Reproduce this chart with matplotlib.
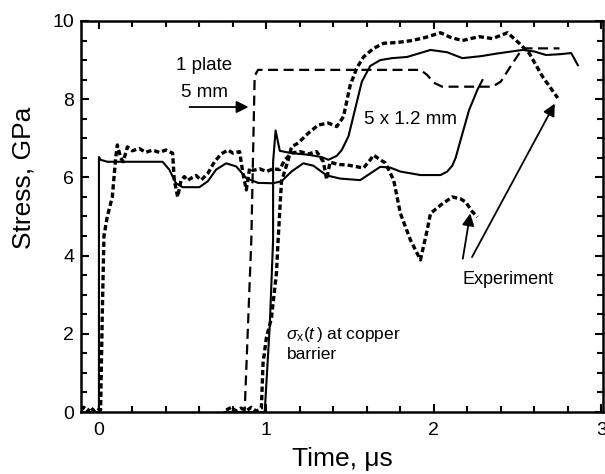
import matplotlib
matplotlib.use("Agg")
import matplotlib.pyplot as plt
from matplotlib.ticker import MultipleLocator

plt.rcParams["font.family"] = ["Liberation Sans", "DejaVu Sans"]
plt.rcParams["mathtext.fontset"] = "custom"
plt.rcParams["mathtext.rm"] = "Liberation Sans"
plt.rcParams["mathtext.it"] = "Liberation Sans:italic"

# simulation, 5 x 1.2 mm stack (front)
sim_a_t = [-0.11, 0.0, 0.0, 0.01, 0.05, 0.38, 0.42, 0.46, 0.50, 0.60, 0.65,
           0.70, 0.76, 0.82, 0.88, 0.95, 1.04, 1.09, 1.15, 1.22, 1.28, 1.36,
           1.44, 1.56, 1.62, 1.68, 1.74, 1.80, 1.92, 2.04, 2.08, 2.11, 2.13,
           2.16, 2.21, 2.26, 2.29]
sim_a_s = [0.0, 0.0, 6.52, 6.45, 6.40, 6.40, 6.20, 5.85, 5.75, 5.75, 5.90,
           6.20, 6.36, 6.28, 5.98, 5.86, 5.85, 5.90, 6.15, 6.36, 6.30, 6.05,
           5.97, 5.93, 6.10, 6.27, 6.25, 6.15, 6.06, 6.06, 6.15, 6.30, 6.50,
           6.96, 7.72, 8.24, 8.49]

# simulation, sigma_x(t) at copper barrier
sim_b_t = [0.75, 0.99, 1.02, 1.04, 1.04, 1.055, 1.08, 1.15, 1.25, 1.33, 1.37,
           1.42, 1.45, 1.49, 1.53, 1.57, 1.62, 1.68, 1.75, 1.84, 1.98, 2.08,
           2.17, 2.28, 2.38, 2.53, 2.60, 2.67, 2.75, 2.82, 2.86]
sim_b_s = [0.0, 0.0, 2.2, 4.4, 6.4, 7.2, 6.68, 6.62, 6.58, 6.52, 6.45, 6.55,
           6.70, 7.05, 7.75, 8.45, 8.85, 9.0, 9.05, 9.08, 9.26, 9.20, 9.05,
           9.10, 9.17, 9.26, 9.22, 9.13, 9.15, 9.18, 8.87]

# simulation, 1 plate 5 mm
plate_t = [0.75, 0.87, 0.91, 0.93, 0.95, 1.92, 1.96, 2.00, 2.05, 2.35, 2.40,
           2.47, 2.53, 2.75]
plate_s = [0.0, 0.0, 4.4, 8.6, 8.75, 8.75, 8.62, 8.42, 8.32, 8.32, 8.45,
           8.92, 9.30, 9.30]

# experiment, front gauge
exp1_t = [-0.107, -0.09, -0.07, -0.05, -0.03, -0.01, 0.01, 0.02, 0.03, 0.05,
          0.08, 0.10, 0.11, 0.13, 0.145, 0.17, 0.20, 0.24, 0.28, 0.32, 0.36,
          0.40, 0.44, 0.45, 0.47, 0.49, 0.51, 0.53, 0.55, 0.58, 0.61, 0.65,
          0.69, 0.73, 0.77, 0.80, 0.84, 0.86, 0.88, 0.90, 0.92, 0.96, 1.00,
          1.04, 1.08, 1.11, 1.15, 1.20, 1.25, 1.30, 1.34, 1.36, 1.38, 1.43,
          1.48, 1.53, 1.58, 1.62, 1.64, 1.68, 1.71, 1.76, 1.80, 1.86, 1.92,
          1.96, 1.98, 2.04, 2.11, 2.16, 2.19, 2.23, 2.26]
exp1_s = [0.05, 0.12, 0.0, 0.12, 0.03, 0.10, 0.05, 2.5, 4.5, 5.0, 5.5, 6.5,
          6.83, 6.5, 6.4, 6.78, 6.68, 6.74, 6.64, 6.70, 6.64, 6.70, 6.62, 5.93,
          5.50, 5.92, 6.02, 5.92, 5.98, 6.05, 5.93, 6.10, 6.40, 6.60, 6.70,
          6.62, 6.66, 6.10, 5.68, 6.24, 6.18, 6.22, 6.15, 6.22, 6.20, 6.45,
          6.62, 6.66, 6.60, 6.66, 6.40, 5.95, 6.39, 6.33, 6.32, 6.28, 6.24,
          6.45, 6.57, 6.45, 6.37, 5.93, 5.08, 4.40, 3.89, 4.65, 5.08, 5.29,
          5.50, 5.45, 5.37, 5.12, 4.99]

# experiment, behind the barrier
exp2_t = [0.76, 0.79, 0.82, 0.85, 0.88, 0.91, 0.94, 0.97, 0.98, 1.00, 1.03,
          1.06, 1.07, 1.09, 1.13, 1.15, 1.19, 1.25, 1.31, 1.37, 1.42, 1.46,
          1.50, 1.54, 1.58, 1.64, 1.70, 1.78, 1.87, 1.95, 2.04, 2.10, 2.17,
          2.27, 2.35, 2.44, 2.51, 2.57, 2.65, 2.74]
exp2_s = [0.05, 0.12, 0.02, 0.10, 0.03, 0.12, 0.02, 0.10, 1.25, 1.90, 2.40,
          3.55, 4.40, 5.9, 6.44, 6.78, 6.88, 7.13, 7.34, 7.39, 7.30, 7.55,
          8.35, 8.80, 9.08, 9.30, 9.43, 9.45, 9.50, 9.58, 9.70, 9.58, 9.50,
          9.60, 9.55, 9.70, 9.43, 9.17, 8.57, 8.03]

fig = plt.figure(figsize=(6.05, 4.74), dpi=100)
ax = fig.add_axes([0.1339, 0.1308, 0.8628, 0.8249])

ax.plot(sim_a_t, sim_a_s, color="k", lw=1.5)
ax.plot(sim_b_t, sim_b_s, color="k", lw=1.5)
ax.plot(plate_t, plate_s, color="k", lw=1.6, ls=(0, (4.5, 2.5)))
ax.plot(exp1_t, exp1_s, color="k", lw=2.4, ls=(0, (1.6, 0.9)))
ax.plot(exp2_t, exp2_s, color="k", lw=2.4, ls=(0, (1.6, 0.9)))

ax.set_xlim(-0.107, 3.01)
ax.set_ylim(0, 10)
ax.xaxis.set_major_locator(MultipleLocator(1))
ax.xaxis.set_minor_locator(MultipleLocator(0.2))
ax.yaxis.set_major_locator(MultipleLocator(2))
ax.yaxis.set_minor_locator(MultipleLocator(0.5))
ax.tick_params(which="both", direction="in", top=True, right=True, width=1.5)
ax.tick_params(which="major", length=6, labelsize=14)
ax.tick_params(which="minor", length=4)
ax.tick_params(axis="x", pad=7)
ax.tick_params(axis="y", pad=5)
for sp in ax.spines.values():
    sp.set_linewidth(1.8)

ax.set_xlabel("Time, \u03bcs", fontsize=19, labelpad=6)
ax.set_ylabel("Stress, GPa", fontsize=19)
ax.yaxis.set_label_coords(-0.088, 0.6)

arrow = dict(arrowstyle="-|>", color="k", lw=1.3, mutation_scale=18)
ax.text(0.63, 8.85, "1 plate", fontsize=13.5, ha="center", va="center")
ax.text(0.63, 8.18, "5 mm", fontsize=13.5, ha="center", va="center")
ax.annotate("", xy=(0.91, 7.8), xytext=(0.525, 7.8), arrowprops=arrow)
ax.text(1.86, 7.47, "5 x 1.2 mm", fontsize=13.5, ha="center", va="center")
ax.text(1.12, 1.97, r"$\sigma_{\mathrm{x}}(t\,)$ at copper", fontsize=12.5,
        ha="left", va="center")
ax.text(1.12, 1.46, "barrier", fontsize=12.5, ha="left", va="center")
ax.text(2.17, 3.38, "Experiment", fontsize=13, ha="left", va="center")
ax.annotate("", xy=(2.22, 5.15), xytext=(2.17, 3.85), arrowprops=arrow)
ax.annotate("", xy=(2.73, 7.95), xytext=(2.22, 3.9), arrowprops=arrow)

fig.savefig("out.png", dpi=100)
